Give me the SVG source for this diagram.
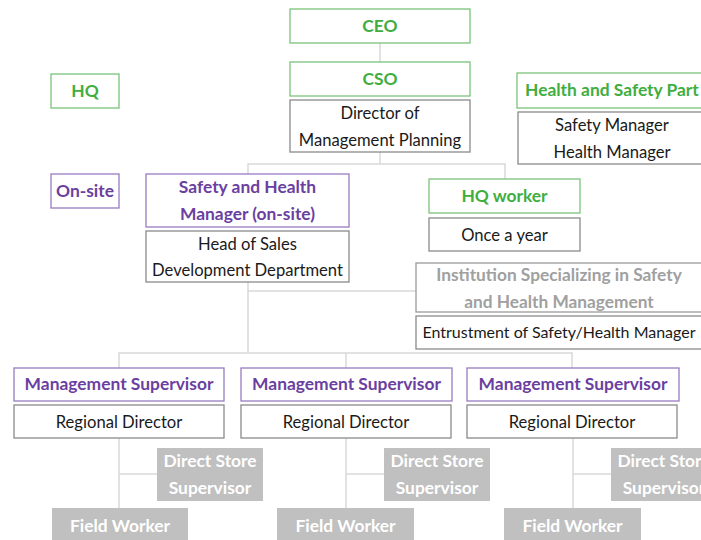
<svg xmlns="http://www.w3.org/2000/svg" width="701" height="540" viewBox="0 0 701 540">
<style>
text{font-family:Lato,"Open Sans","Liberation Sans",sans-serif;text-anchor:middle}
.g rect{fill:#fff;stroke:#7cc47a;stroke-width:1.3}
.g text{fill:#3fae3f;font-weight:700;font-size:17.4px}
.p rect{fill:#fff;stroke:#9a7cc4;stroke-width:1.3}
.p text{fill:#6b3fa0;font-weight:700;font-size:17.4px}
.k rect{fill:#fff;stroke:#8a8a8a;stroke-width:1.3}
.k text{fill:#1a1a1a;font-size:16.6px}
.q rect{fill:#fff;stroke:#9a9a9a;stroke-width:1.3}
.q text{fill:#a0a0a0;font-weight:700;font-size:17.3px}
.s rect{fill:#c0c0c0;stroke:none}
.s text{fill:#fff;font-weight:700;font-size:17.4px}
.c line,.c polyline{stroke:#d9d9d9;stroke-width:1.5;fill:none}
</style>
<g id="connectors" class="c">
<line x1="380" y1="43" x2="380" y2="62"/>
<line x1="380" y1="152" x2="380" y2="164"/>
<polyline points="248,174 248,164 505,164 505,179"/>
<line x1="248" y1="282" x2="248" y2="353"/>
<line x1="248" y1="291" x2="416" y2="291"/>
<polyline points="119,368 119,353 572,353 572,368"/>
<line x1="346" y1="353" x2="346" y2="368"/>
<line x1="119" y1="438" x2="119" y2="508"/>
<line x1="119" y1="474" x2="157" y2="474"/>
<line x1="346" y1="438" x2="346" y2="508"/>
<line x1="346" y1="474" x2="384" y2="474"/>
<line x1="573" y1="438" x2="573" y2="508"/>
<line x1="573" y1="474" x2="611" y2="474"/>
</g>
<g id="ceo" class="g"><rect x="290" y="9" width="180" height="34"/><text x="380" y="32">CEO</text></g>
<g id="cso" class="g"><rect x="290" y="62" width="180" height="34"/><text x="380" y="85">CSO</text></g>
<g id="dmp" class="k"><rect x="290" y="100" width="180" height="52"/><text x="380" y="119">Director of</text><text x="380" y="146">Management Planning</text></g>
<g id="hq" class="g"><rect x="51" y="74" width="68" height="34"/><text x="85" y="97">HQ</text></g>
<g id="onsite" class="p"><rect x="51" y="174" width="68" height="34"/><text x="85" y="197">On-site</text></g>
<g id="hsp" class="g"><rect x="517" y="73" width="190" height="35"/><text x="525" y="96" style="text-anchor:start">Health and Safety Part</text></g>
<g id="shm" class="k"><rect x="518" y="112" width="188" height="52"/><text x="612" y="131">Safety Manager</text><text x="612" y="158">Health Manager</text></g>
<g id="shmo" class="p"><rect x="146" y="174" width="203" height="53"/><text x="247.500" y="193">Safety and Health</text><text x="247.500" y="220">Manager (on-site)</text></g>
<g id="hsd" class="k"><rect x="146" y="231" width="203" height="51"/><text x="247.500" y="250">Head of Sales</text><text x="247.500" y="276">Development Department</text></g>
<g id="hqw" class="g"><rect x="429" y="179" width="151" height="34"/><text x="504.500" y="202">HQ worker</text></g>
<g id="oay" class="k"><rect x="429" y="218" width="151" height="33"/><text x="504.500" y="241">Once a year</text></g>
<g id="inst" class="q"><rect x="416" y="263" width="287" height="49"/><text x="559" y="281">Institution Specializing in Safety</text><text x="559" y="308">and Health Management</text></g>
<g id="entr" class="k"><rect x="416" y="316" width="287" height="33"/><text x="559" y="338" style="font-size:16px">Entrustment of Safety/Health Manager</text></g>
<g id="ms1" class="p"><rect x="14" y="368" width="210" height="33"/><text x="119" y="390">Management Supervisor</text></g>
<g id="rd1" class="k"><rect x="14" y="405" width="210" height="33"/><text x="119" y="428">Regional Director</text></g>
<g id="ms2" class="p"><rect x="241" y="368" width="211" height="33"/><text x="346.500" y="390">Management Supervisor</text></g>
<g id="rd2" class="k"><rect x="241" y="405" width="210" height="33"/><text x="346" y="428">Regional Director</text></g>
<g id="ms3" class="p"><rect x="467" y="368" width="212" height="33"/><text x="573" y="390">Management Supervisor</text></g>
<g id="rd3" class="k"><rect x="467" y="405" width="210" height="33"/><text x="572" y="428">Regional Director</text></g>
<g id="ds1" class="s"><rect x="157" y="448" width="106" height="53"/><text x="210" y="467">Direct Store</text><text x="210" y="494">Supervisor</text></g>
<g id="ds2" class="s"><rect x="384" y="448" width="106" height="53"/><text x="437" y="467">Direct Store</text><text x="437" y="494">Supervisor</text></g>
<g id="ds3" class="s"><rect x="611" y="448" width="106" height="53"/><text x="664" y="467">Direct Store</text><text x="664" y="494">Supervisor</text></g>
<g id="fw1" class="s"><rect x="52" y="508" width="136" height="32"/><text x="120" y="532">Field Worker</text></g>
<g id="fw2" class="s"><rect x="277" y="508" width="137" height="32"/><text x="345.500" y="532">Field Worker</text></g>
<g id="fw3" class="s"><rect x="504" y="508" width="137" height="32"/><text x="572.500" y="532">Field Worker</text></g>
</svg>
